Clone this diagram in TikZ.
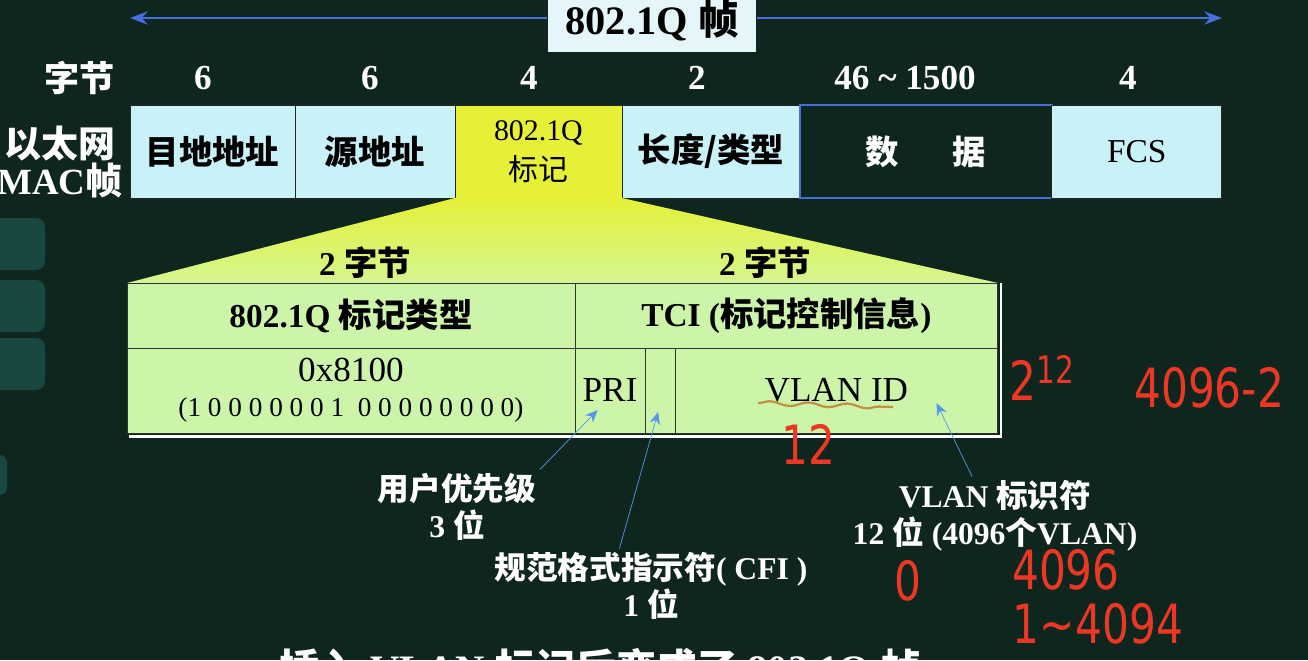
\documentclass[tikz,border=0pt]{standalone}
\usepackage{fontspec}
\setmainfont{Liberation Serif}
\newfontfamily\cjk{Noto Sans CJK SC}
\newfontfamily\handfont{DejaVu Sans}
\usetikzlibrary{positioning,arrows.meta,decorations.pathmorphing}
\definecolor{board}{RGB}{15,38,30}
\definecolor{fieldcyan}{RGB}{200,242,248}
\definecolor{tagyellow}{RGB}{230,240,55}
\definecolor{tablegreen}{RGB}{205,245,170}
\definecolor{titlefill}{RGB}{228,246,250}
\definecolor{framearrow}{RGB}{70,110,220}
\definecolor{pointerblue}{RGB}{85,150,235}
\definecolor{ink}{RGB}{235,55,35}
\definecolor{marker}{RGB}{195,145,70}
\definecolor{uipanel}{RGB}{25,72,64}
\newcommand{\zh}[1]{{\cjk #1}}
\newcommand{\sized}[1]{\fontsize{#1}{#1}\selectfont}
\newcommand{\spaced}[2]{\fontsize{#1}{#2}\selectfont}
\newcommand{\hand}[1]{\scalebox{0.86}[1.1]{#1}}

\begin{document}
\begin{tikzpicture}[x=0.02cm,y=-0.02cm,
  field/.style={draw=black!85,inner sep=0pt,outer sep=0pt,minimum height=1.86cm,text=black,font=\sized{19}\bfseries},
  bytes/.style={text=white,font=\sized{20}\bfseries},
  cell/.style={draw=black!80,fill=tablegreen,inner sep=0pt,outer sep=0pt,text=black,font=\sized{19}\bfseries},
  note/.style={text=white,align=center,inner sep=2pt,font=\spaced{18}{21}\bfseries},
  pointer/.style={pointerblue,thin,-{Stealth[length=7pt,width=6pt]}},
  scrawl/.style={text=ink,font=\handfont\sized{28}}]

  % Board
  \useasboundingbox (0,0) rectangle (1308,660);
  \fill[board] (0,0) rectangle (1308,660);

  % Player buttons on the left edge
  \fill[uipanel,rounded corners=5pt] (-10,218) rectangle (45,270);
  \fill[uipanel,rounded corners=5pt] (-10,280) rectangle (45,332);
  \fill[uipanel,rounded corners=5pt] (-10,338) rectangle (45,390);
  \fill[uipanel,rounded corners=4pt] (-10,455) rectangle (7,495);

  % Whole frame span
  \coordinate (spanL) at (130,18);
  \coordinate (spanR) at (1222,18);
  \draw[framearrow,line width=1.6pt,{Stealth[length=10pt]}-{Stealth[length=10pt]}] (spanL) -- (spanR);
  \node[fill=titlefill,draw=board,minimum width=4.18cm,minimum height=1.3cm,font=\sized{23}\bfseries] (title) at (652,20) {802.1Q \zh{帧}};

  % Byte counts
  \node[bytes] (bytelbl) at (80,78) {\zh{字节}};
  \foreach \x/\n [count=\i] in {203/6,370/6,529/4,697/2,905/{46 \textasciitilde\ 1500},1128/4}
    \node[bytes] (count\i) at (\x,78) {\n};

  % Ethernet MAC frame
  \node[bytes,align=center,font=\sized{21}\bfseries] (maclbl) at (60,162) {\zh{以太网}\\MAC\zh{帧}};
  \node[field,fill=fieldcyan,minimum width=3.3cm,anchor=north west] (dst) at (130,105) {\zh{目地地址}};
  \node[field,fill=fieldcyan,minimum width=3.2cm,right=0pt of dst] (src) {\zh{源地址}};
  \node[field,fill=tagyellow,minimum width=3.34cm,right=0pt of src,align=center,font=\sized{17}] (tag) {802.1Q\\[5pt]\zh{标记}};
  \node[field,fill=fieldcyan,minimum width=3.56cm,right=0pt of tag] (len) {\zh{长度/类型}};
  \node[field,draw=framearrow,line width=1.4pt,fill=board,text=white,minimum width=5.04cm,right=0pt of len] (data) {\zh{数\hspace{1.6em}据}};
  \node[field,fill=fieldcyan,minimum width=3.4cm,right=0pt of data,font=\sized{19}] (fcs) {FCS};

  % Zoom wedge under the tag
  \shade[top color=tagyellow,bottom color=tablegreen!85!yellow] (tag.south west) -- (tag.south east) -- (998,283) -- (127,283) -- cycle;
  \node[cell,fill=none,draw=none] (halfA) at (365,263) {2 \zh{字节}};
  \node[cell,fill=none,draw=none] (halfB) at (765,263) {2 \zh{字节}};

  % 802.1Q tag fields
  \node[cell,minimum width=8.96cm,minimum height=1.3cm,anchor=north west] (tagtype) at (127,283) {802.1Q \zh{标记类型}};
  \node[cell,minimum width=8.46cm,minimum height=1.3cm,right=0pt of tagtype] (tci) {TCI (\zh{标记控制信息})};
  \node[cell,minimum width=8.96cm,minimum height=1.7cm,below=0pt of tagtype,align=center,font=\spaced{20}{20}] (tpid) {0x8100\\{\sized{15.5}(1 0 0 0 0 0 0 1\ \ 0 0 0 0 0 0 0 0)}};
  \node[cell,minimum width=1.4cm,minimum height=1.7cm,anchor=north west,font=\sized{20}] (pri) at (tci.south west) {PRI};
  \node[cell,minimum width=0.6cm,minimum height=1.7cm,right=0pt of pri] (cfi) {};
  \node[cell,minimum width=6.46cm,minimum height=1.7cm,right=0pt of cfi,font=\sized{20}] (vid) {VLAN ID};
  \draw[white,line width=1.2pt] ([xshift=1pt,yshift=-2pt]tpid.south west) -- ([xshift=2pt,yshift=-2pt]vid.south east) -- ([xshift=2pt]tci.north east);

  % Field notes
  \node[note] (prinote) at (457,507) {\zh{用户优先级}\\3 \zh{位}};
  \node[note] (cfinote) at (651,586) {\zh{规范格式指示符}( CFI )\\1 \zh{位}};
  \node[note] (vidnote) at (995,516) {VLAN \zh{标识符}\\12 \zh{位} (4096\zh{个}VLAN)};
  \coordinate (pritip) at ([xshift=-7pt,yshift=13pt]pri.south);
  \coordinate (cfitip) at ([xshift=-1pt,yshift=12pt]cfi.south);
  \coordinate (vidtip) at ([xshift=57pt,yshift=17pt]vid.south);
  \draw[pointer] (prinote.north east) -- (pritip);
  \draw[pointer] ([xshift=-18pt]cfinote.north) -- (cfitip);
  \draw[pointer] ([xshift=-13pt]vidnote.north) -- (vidtip);

  % Handwriting
  \draw[marker,line width=1.3pt,decorate,decoration={snake,amplitude=1.2pt,segment length=22pt}] (758,403) -- (893,407);
  \node[scrawl] (vidbits) at (808,444) {\hand{12}};
  \node[scrawl] (pow) at (1042,378) {\hand{2\textsuperscript{12}}};
  \node[scrawl,anchor=west] (diff) at (1128,388) {\hand{4096-2}};
  \node[scrawl] (zero) at (908,581) {\hand{0}};
  \node[scrawl] (total) at (1066,570) {\hand{4096}};
  \node[scrawl] (range) at (1098,624) {\hand{1\textasciitilde 4094}};

  % Caption, cut off by the bottom edge
  \node[note,inner sep=0pt,anchor=north,font=\sized{23}\bfseries] (caption) at (600,648) {\zh{插入} VLAN \zh{标记后变成了} 802.1Q \zh{帧}};

\end{tikzpicture}
\end{document}
